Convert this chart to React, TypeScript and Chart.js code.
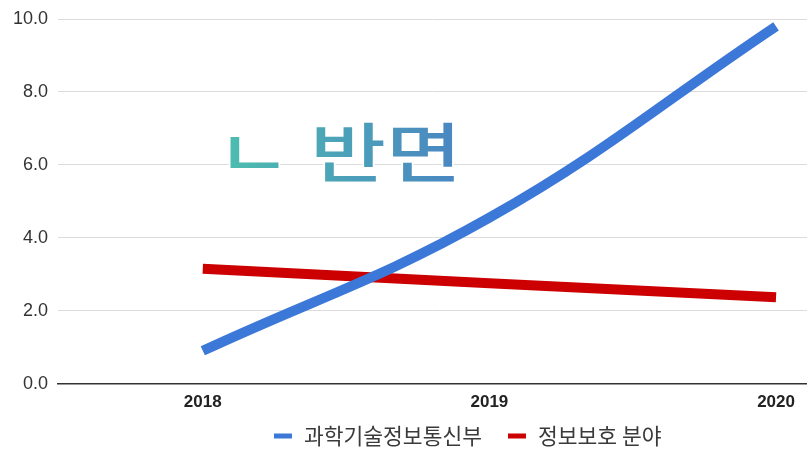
import React, { useEffect, useRef } from "react";
import { Chart, registerables } from "chart.js";

Chart.register(...registerables);

const years = [2018, 2019, 2020];
const seriesNames = ["과학기술정보통신부", "정보보호 분야"];
const seriesColors = ["#3c78d8", "#cc0000"];
const ministryValues = [0.9, 4.55, 9.8];
const securityValues = [3.15, 2.75, 2.37];
const yTicks = [0, 2, 4, 6, 8, 10];
const overlayText = "ㄴ 반면";

const overlayPlugin = {
  id: "overlayText",
  afterDraw(chart: any) {
    const ctx = chart.ctx;
    ctx.save();
    ctx.translate(216, 176.5);
    ctx.scale(1.21, 0.95);
    ctx.font = '500 68px "Noto Sans CJK KR"';
    ctx.textBaseline = "alphabetic";
    ctx.textAlign = "left";
    const g = ctx.createLinearGradient(0, 0, 200, 0);
    g.addColorStop(0, "#4dbfae");
    g.addColorStop(1, "#4a86c2");
    ctx.lineWidth = 3;
    ctx.strokeStyle = "rgba(255,255,255,0.9)";
    ctx.strokeText(overlayText, 0, 0);
    ctx.fillStyle = g;
    ctx.fillText(overlayText, 0, 0);
    ctx.restore();
  },
};

// Bottom legend drawn in the canvas (Google-Sheets style spacing)
const legendPlugin = {
  id: "bottomLegend",
  afterDraw(chart: any) {
    const ctx = chart.ctx;
    const boxW = 18;
    const boxH = 5;
    const gapText = 12;
    const gapItem = 26;
    ctx.save();
    ctx.font = '21.5px "Noto Sans CJK KR"';
    ctx.textBaseline = "middle";
    ctx.textAlign = "left";
    const items = chart.data.datasets.map((d: any) => ({
      text: d.label,
      color: d.borderColor,
      w: ctx.measureText(d.label).width,
    }));
    const total =
      items.reduce((s: number, it: any) => s + boxW + gapText + it.w, 0) +
      gapItem * (items.length - 1);
    const center = chart.chartArea.left + chart.chartArea.width * 0.547;
    let x = center - total / 2;
    const y = chart.height - 13;
    items.forEach((it: any) => {
      ctx.fillStyle = it.color;
      ctx.fillRect(x, y - boxH / 2, boxW, boxH);
      x += boxW + gapText;
      ctx.fillStyle = "#3a3a3a";
      ctx.fillText(it.text, x, y);
      x += it.w + gapItem;
    });
    ctx.restore();
  },
};

export default function App() {
  const ref = useRef<HTMLCanvasElement>(null);
  useEffect(() => {
    if (!ref.current) return;
    const chart = new Chart(ref.current, {
      type: "line",
      data: {
        datasets: [
          {
            label: seriesNames[0],
            data: years.map((y, i) => ({ x: y, y: ministryValues[i] })),
            borderColor: seriesColors[0],
            backgroundColor: seriesColors[0],
            borderWidth: 10,
            tension: 0.4,
            pointRadius: 0,
            borderCapStyle: "butt",
          },
          {
            label: seriesNames[1],
            data: years.map((y, i) => ({ x: y, y: securityValues[i] })),
            borderColor: seriesColors[1],
            backgroundColor: seriesColors[1],
            borderWidth: 10,
            tension: 0,
            pointRadius: 0,
            borderCapStyle: "butt",
          },
        ],
      },
      options: {
        animation: false,
        responsive: false,
        layout: { padding: { top: -3, right: 0, left: 3, bottom: 35 } },
        scales: {
          x: {
            type: "linear",
            min: 2017.495,
            max: 2020.108,
            afterBuildTicks: (axis: any) => {
              axis.ticks = years.map((v) => ({ value: v }));
            },
            grid: { display: false },
            border: { display: true, color: "#333", width: 1.5 },
            ticks: {
              color: "#222",
              font: { family: "Liberation Sans", size: 17, weight: "bold" },
              callback: (v: any) => String(v),
              padding: 1,
              maxRotation: 0,
            },
          },
          y: {
            min: 0,
            max: 10,
            afterBuildTicks: (axis: any) => {
              axis.ticks = yTicks.map((v) => ({ value: v }));
            },
            grid: { color: "#dcdcdc", drawTicks: false },
            border: { display: false },
            ticks: {
              color: "#333",
              font: { family: "Liberation Sans", size: 18, lineHeight: 1 },
              callback: (v: any) => Number(v).toFixed(1),
              padding: 10,
            },
          },
        },
        plugins: {
          legend: { display: false },
          tooltip: { enabled: false },
        },
      },
      plugins: [overlayPlugin, legendPlugin],
    } as any);
    return () => chart.destroy();
  }, []);
  return (
    <div style={{ position: "absolute", left: 0, top: 0, width: 807, height: 449, background: "#fff" }}>
      <canvas ref={ref} width={807} height={449} style={{ width: 807, height: 449 }} />
    </div>
  );
}
